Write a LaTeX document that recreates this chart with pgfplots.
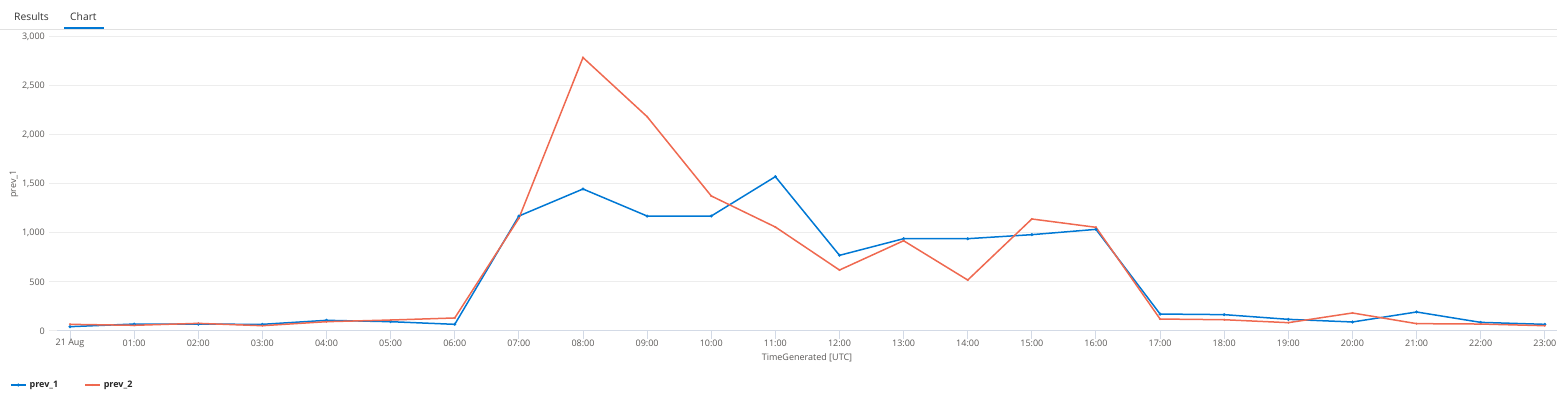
\documentclass[border=0pt]{standalone}
\usepackage{fontspec}
\setmainfont{Open Sans}
\usepackage{pgfplots}
\pgfplotsset{compat=1.18}
\definecolor{blueS}{HTML}{0078D4}
\definecolor{redS}{HTML}{EF6950}
\definecolor{gridc}{HTML}{EDEDED}
\definecolor{axisc}{HTML}{D3DAE6}
\definecolor{labc}{HTML}{5A5856}
\definecolor{tabline}{HTML}{E1E1E1}
\begin{document}
\begin{tikzpicture}[x=1pt,y=1pt]
\path[use as bounding box] (0,0) rectangle (1557,398);
% tabs
\draw[tabline, line width=1pt] (0,368.3) -- (1557,368.3);
\draw[blueS, line width=1.8pt] (64,369.9) -- (104,369.9);
\node[anchor=west, inner sep=0pt, text=black!80, font=\fontsize{10.3}{12}\selectfont] at (14,381) {Results};
\node[anchor=west, inner sep=0pt, text=black!80, font=\fontsize{10.3}{12}\selectfont] at (70,381) {Chart};
\begin{axis}[
  at={(57pt,67pt)}, anchor=south west,
  width=1500pt, height=294pt, scale only axis,
  xmin=-0.203, xmax=23.19, ymin=0, ymax=3000,
  axis x line*=bottom, axis y line*=left,
  x axis line style={draw=axisc, line width=1pt, -},
  y axis line style={draw=none},
  ymajorgrids, major grid style={draw=gridc, line width=1pt},
  tick align=outside,
  ytick={0,500,1000,1500,2000,2500,3000},
  xtick={0,...,23},
  xticklabels={21 Aug,01:00,02:00,03:00,04:00,05:00,06:00,07:00,08:00,09:00,10:00,11:00,12:00,13:00,14:00,15:00,16:00,17:00,18:00,19:00,20:00,21:00,22:00,23:00},
  ytick style={draw=gridc, line width=1pt},
  xtick style={draw=axisc, line width=1pt},
  major tick length=8pt,
  /pgf/number format/1000 sep={,},
  /pgf/number format/assume math mode=true,
  ticklabel style={font=\fontsize{9}{10}\selectfont, text=labc},
  yticklabel style={anchor=east, inner sep=0pt, xshift=-4pt},
  xticklabel style={anchor=center, inner sep=0pt, yshift=-4pt},
  xlabel={TimeGenerated [UTC]},
  ylabel={prev\_1},
  label style={font=\fontsize{9}{10}\selectfont, text=labc},
  xlabel style={at={(axis description cs:0.5,-0.0918)}, anchor=center, inner sep=0pt},
  ylabel style={at={(axis description cs:-0.02867,0.5)}, anchor=center, inner sep=0pt},
  legend columns=2,
  legend style={at={(axis description cs:-0.0313,-0.1837)}, anchor=west, draw=none, fill=none,
    font=\fontsize{9}{10}\selectfont\bfseries, text=black!85,
    inner sep=0pt, outer sep=0pt,
    nodes={inner sep=0pt, outer sep=0pt},
    /tikz/every even column/.append style={column sep=26pt},
    /tikz/every odd column/.append style={column sep=3pt}},
  legend image code/.code={\draw[#1, mark repeat=2, mark phase=2] plot coordinates {(0pt,0pt) (7.5pt,0pt) (15pt,0pt)};},
]
\addplot[blueS, line width=1.5pt, mark=*, mark size=1.4pt, mark options={draw=blueS, fill=blueS, line width=0.3pt}]
  coordinates {(0,44) (1,71) (2,70) (3,68) (4,109) (5,95) (6,68) (7,1173) (8,1449) (9,1173) (10,1173) (11,1575) (12,772) (13,942) (14,942) (15,983) (16,1037) (17,173) (18,167) (19,119) (20,92) (21,194) (22,88) (23,68)};
\addlegendentry{prev\_1}
\addplot[redS, line width=1.5pt, mark=*, mark size=0.9pt, mark options={draw=redS, fill=redS, line width=0.3pt}]
  coordinates {(0,68) (1,58) (2,78) (3,54) (4,95) (5,112) (6,133) (7,1150) (8,2790) (9,2187) (10,1378) (11,1061) (12,622) (13,921) (14,520) (15,1143) (16,1058) (17,122) (18,115) (19,85) (20,184) (21,75) (22,71) (23,54)};
\addlegendentry{prev\_2}
\end{axis}
\end{tikzpicture}
\end{document}
